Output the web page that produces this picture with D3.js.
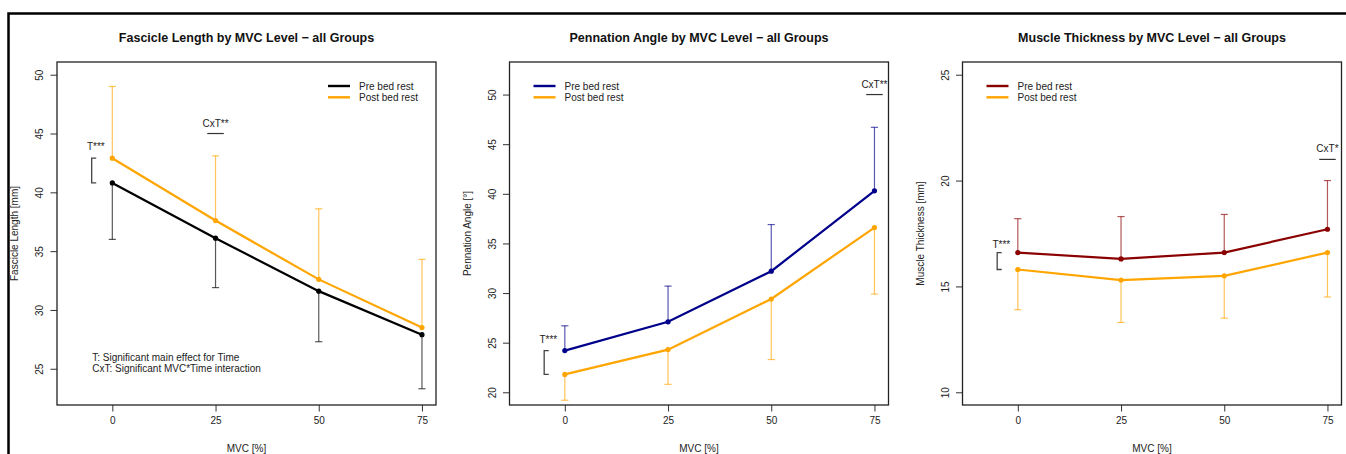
<!DOCTYPE html>
<html>
<head>
<meta charset="utf-8">
<script src="https://cdn.jsdelivr.net/npm/d3@7"></script>
<style>
  body { margin: 0; background: #ffffff; }
  svg { display: block; font-family: "Liberation Sans", Arial, Helvetica, sans-serif; }
</style>
</head>
<body>
<svg id="chart" width="1346" height="454"></svg>
<script>
// ---- data -------------------------------------------------------------
const mvcLevels = [0, 25, 50, 75];
const mvcTicks = [0, 25, 50, 75];
const mvcLimits = [-10, 75];
const seriesNames = ["Pre bed rest", "Post bed rest"];

// Fascicle length [mm]: means and SDs
const fasciclePre = [40.8, 36.1, 31.6, 27.9];
const fasciclePreSd = [4.8, 4.2, 4.3, 4.6];
const fasciclePost = [42.9, 37.6, 32.6, 28.5];
const fasciclePostSd = [6.1, 5.5, 6.0, 5.8];
const fascicleLimits = [23, 50];
const fascicleTicks = [25, 30, 35, 40, 45, 50];

// Pennation angle [deg]
const pennationPre = [24.2, 27.1, 32.2, 40.3];
const pennationPreSd = [2.5, 3.6, 4.7, 6.4];
const pennationPost = [21.8, 24.3, 29.4, 36.6];
const pennationPostSd = [2.6, 3.5, 6.1, 6.7];
const pennationLimits = [20, 52];
const pennationTicks = [20, 25, 30, 35, 40, 45, 50];

// Muscle thickness [mm]
const thicknessPre = [16.6, 16.3, 16.6, 17.7];
const thicknessPreSd = [1.6, 2.0, 1.8, 2.3];
const thicknessPost = [15.8, 15.3, 15.5, 16.6];
const thicknessPostSd = [1.9, 2.0, 2.0, 2.1];
const thicknessLimits = [10, 25];
const thicknessTicks = [10, 15, 20, 25];

// Significance markers: time effect label height, interaction marker position
const timeLabelY = [43.9, 25.35, 17.0];
const interactionX = [25, 75, 75];
const interactionY = [45, 50, 21];
const interactionLabels = ["CxT**", "CxT**", "CxT*"];
const footnoteLines = ["T: Significant main effect for Time", "CxT: Significant MVC*Time interaction"];

const panelTitles = [
  "Fascicle Length by MVC Level \u2212 all Groups",
  "Pennation Angle by MVC Level \u2212 all Groups",
  "Muscle Thickness by MVC Level \u2212 all Groups"
];
const yAxisTitles = ["Fascicle Length [mm]", "Pennation Angle [\u00b0]", "Muscle Thickness [mm]"];
const xAxisTitle = "MVC [%]";

// ---- panel setup ------------------------------------------------------
const preColors = ["#000000", "#00008B", "#8B0000"];
const postColor = "#FFA500";

const panels = [
  { pre: fasciclePre, preSd: fasciclePreSd, post: fasciclePost, postSd: fasciclePostSd,
    lim: fascicleLimits, ticks: fascicleTicks, legendRight: true, footnote: true },
  { pre: pennationPre, preSd: pennationPreSd, post: pennationPost, postSd: pennationPostSd,
    lim: pennationLimits, ticks: pennationTicks, legendRight: false, footnote: false },
  { pre: thicknessPre, preSd: thicknessPreSd, post: thicknessPost, postSd: thicknessPostSd,
    lim: thicknessLimits, ticks: thicknessTicks, legendRight: false, footnote: false }
];

const svg = d3.select("#chart");

// outer frame
svg.append("path")
  .attr("d", "M8.5,460 V13.5 H1352")
  .attr("fill", "none").attr("stroke", "#000").attr("stroke-width", 2.5);

const boxTop = 62, boxBottom = 405, boxWidth = 379;
const boxLefts = [57, 509.5, 962.5];

// R-style 4% axis expansion
const expand = lim => { const d = (lim[1] - lim[0]) * 0.04; return [lim[0] - d, lim[1] + d]; };

panels.forEach((p, i) => {
  const left = boxLefts[i];
  const g = svg.append("g");
  const x = d3.scaleLinear().domain(expand(mvcLimits)).range([left, left + boxWidth]);
  const y = d3.scaleLinear().domain(expand(p.lim)).range([boxBottom, boxTop]);
  const preColor = preColors[i];

  // title
  g.append("text")
    .attr("x", left + boxWidth / 2).attr("y", 42)
    .attr("text-anchor", "middle")
    .attr("font-size", 12.5).attr("font-weight", "bold").attr("fill", "#111")
    .text(panelTitles[i]);

  // axes
  const xAxis = d3.axisBottom(x).tickValues(mvcTicks).tickSize(6.5).tickPadding(5);
  const gx = g.append("g").attr("transform", `translate(0,${boxBottom})`).call(xAxis);
  gx.select(".domain").remove();
  gx.selectAll("line").attr("stroke", "#333");
  gx.selectAll("text").attr("font-size", 10).attr("fill", "#222")
    .attr("font-family", "Liberation Sans, Arial, sans-serif");

  const yAxis = d3.axisLeft(y).tickValues(p.ticks).tickSize(6.5).tickPadding(0);
  const gy = g.append("g").attr("transform", `translate(${left},0)`).call(yAxis);
  gy.select(".domain").remove();
  gy.selectAll("line").attr("stroke", "#333");
  gy.selectAll("text")
    .attr("font-size", 10).attr("fill", "#222")
    .attr("font-family", "Liberation Sans, Arial, sans-serif")
    .attr("x", null).attr("dy", null)
    .attr("text-anchor", "middle")
    .attr("transform", "translate(-14,0) rotate(-90)");

  // box
  g.append("rect")
    .attr("x", left).attr("y", boxTop)
    .attr("width", boxWidth).attr("height", boxBottom - boxTop)
    .attr("fill", "none").attr("stroke", "#222").attr("stroke-width", 1.3);

  // axis titles
  g.append("text")
    .attr("x", left + boxWidth / 2).attr("y", 452)
    .attr("text-anchor", "middle").attr("font-size", 10).attr("fill", "#222")
    .text(xAxisTitle);
  g.append("text")
    .attr("transform", `translate(${left - 39},${(boxTop + boxBottom) / 2}) rotate(-90)`)
    .attr("text-anchor", "middle").attr("font-size", 10).attr("fill", "#222")
    .text(yAxisTitles[i]);

  const line = d3.line().x((d, k) => x(mvcLevels[k])).y(d => y(d));

  const series = [
    { vals: p.pre, sd: p.preSd, other: p.post, color: preColor },
    { vals: p.post, sd: p.postSd, other: p.pre, color: postColor }
  ];

  series.forEach(s => {
    // error bars point away from the other series
    s.vals.forEach((v, k) => {
      const dir = v >= s.other[k] ? 1 : -1;
      const end = v + dir * s.sd[k];
      const cx = x(mvcLevels[k]);
      g.append("line")
        .attr("x1", cx).attr("x2", cx).attr("y1", y(v)).attr("y2", y(end))
        .attr("stroke", s.color).attr("stroke-opacity", 0.65).attr("stroke-width", 1.2);
      g.append("line")
        .attr("x1", cx - 3.6).attr("x2", cx + 3.6).attr("y1", y(end)).attr("y2", y(end))
        .attr("stroke", s.color).attr("stroke-opacity", 0.65).attr("stroke-width", 1.2);
    });
    g.append("path")
      .datum(s.vals)
      .attr("d", line)
      .attr("fill", "none").attr("stroke", s.color).attr("stroke-width", 2.2);
    g.selectAll(null).data(s.vals).enter().append("circle")
      .attr("cx", (d, k) => x(mvcLevels[k])).attr("cy", d => y(d))
      .attr("r", 2.6).attr("fill", s.color);
  });

  // time-effect bracket at 0 % MVC
  const hi = Math.max(p.pre[0], p.post[0]);
  const lo = Math.min(p.pre[0], p.post[0]);
  const bx = x(-5), bx2 = x(-3.9);
  g.append("path")
    .attr("d", `M${bx2},${y(hi)} H${bx} V${y(lo)} H${bx2}`)
    .attr("fill", "none").attr("stroke", "#444").attr("stroke-width", 1.3);
  g.append("text")
    .attr("x", x(-4)).attr("y", y(timeLabelY[i]))
    .attr("dy", "0.35em").attr("text-anchor", "middle")
    .attr("font-size", 10).attr("fill", "#222")
    .text("T***");

  // interaction marker
  const ix = x(interactionX[i]);
  const iy = y(interactionY[i]);
  g.append("line")
    .attr("x1", x(interactionX[i] - 2)).attr("x2", x(interactionX[i] + 2))
    .attr("y1", iy).attr("y2", iy)
    .attr("stroke", "#333").attr("stroke-width", 1.2);
  g.append("text")
    .attr("x", ix).attr("y", iy - 10.5)
    .attr("dy", "0.35em").attr("text-anchor", "middle")
    .attr("font-size", 10).attr("fill", "#222")
    .text(interactionLabels[i]);

  // legend
  const lx = p.legendRight ? left + 271 : left + 24;
  seriesNames.forEach((name, k) => {
    const ly = 86 + k * 11.3;
    g.append("line")
      .attr("x1", lx).attr("x2", lx + 22).attr("y1", ly).attr("y2", ly)
      .attr("stroke", k === 0 ? preColor : postColor).attr("stroke-width", 2.4);
    g.append("text")
      .attr("x", lx + 31).attr("y", ly).attr("dy", "0.35em")
      .attr("font-size", 10).attr("fill", "#222")
      .text(name);
  });

  // footnote
  if (p.footnote) {
    footnoteLines.forEach((t, k) => {
      g.append("text")
        .attr("x", x(-4.85)).attr("y", 357 + k * 11.7).attr("dy", "0.35em")
        .attr("font-size", 10).attr("fill", "#222")
        .text(t);
    });
  }
});
</script>
</body>
</html>
